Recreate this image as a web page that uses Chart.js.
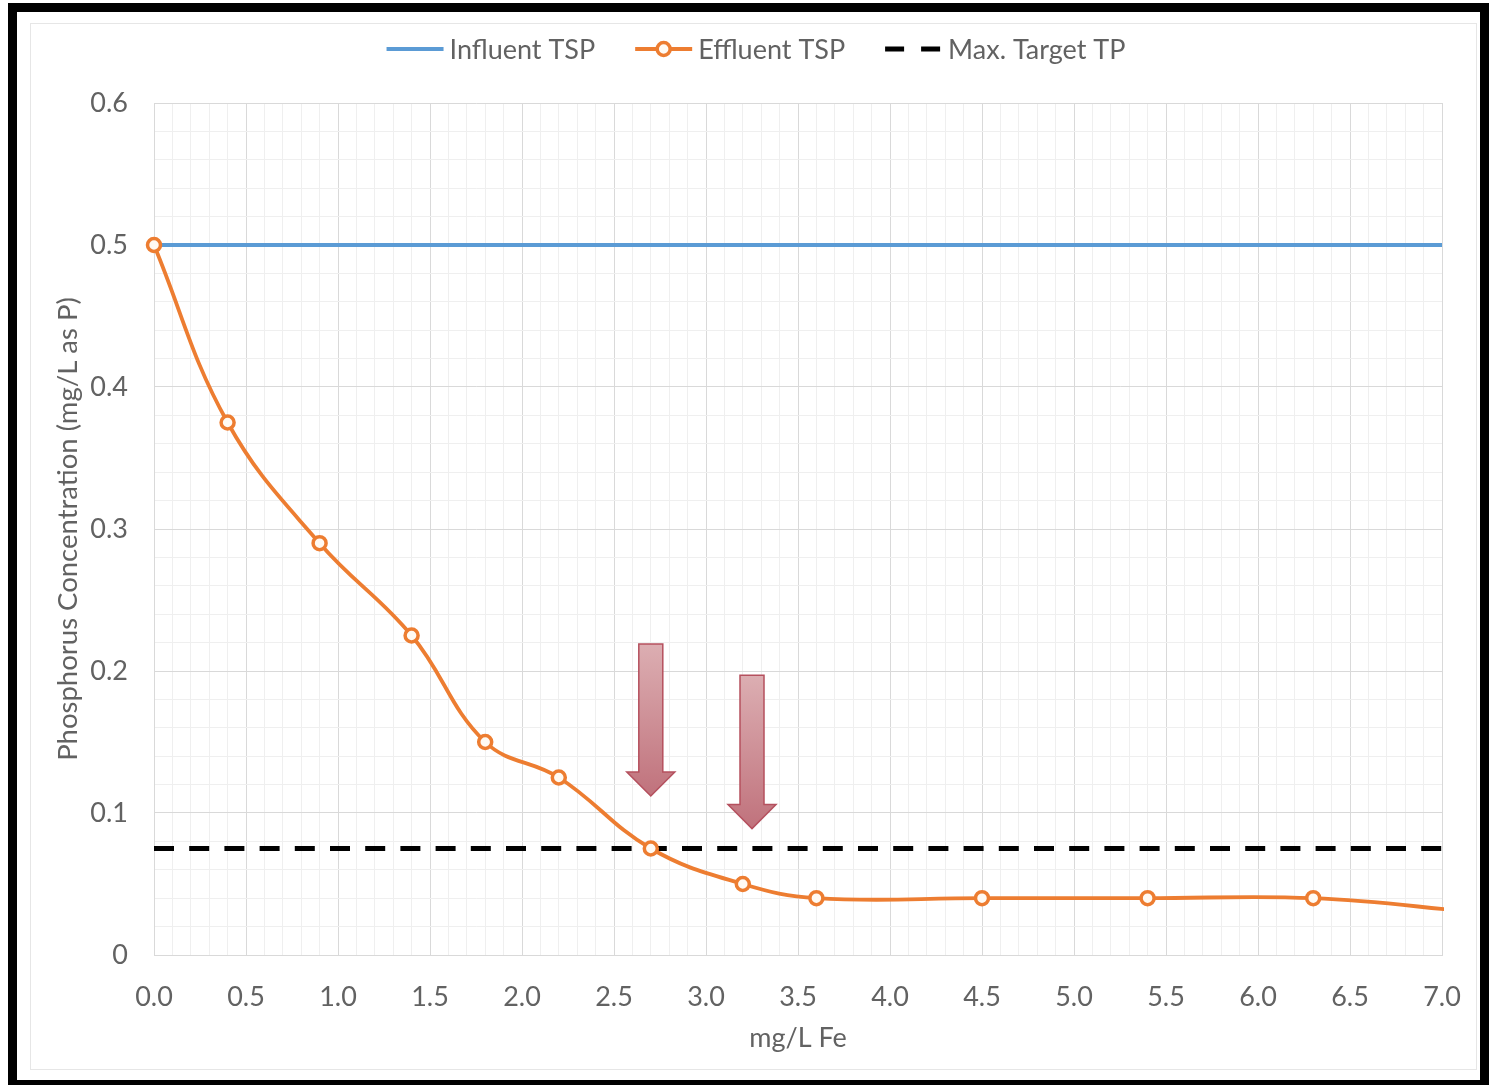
<!DOCTYPE html>
<html>
<head>
<meta charset="utf-8">
<title>Phosphorus removal vs. iron dose</title>
<script src="https://cdn.jsdelivr.net/npm/chart.js@4/dist/chart.umd.min.js"></script>
<style>
  html, body { margin: 0; padding: 0; background: #ffffff; }
  canvas { display: block; }
</style>
</head>
<body>
<canvas id="chart" width="1489" height="1085"></canvas>
<script>
// Iron dose (mg/L Fe) and the measured effluent total soluble phosphorus
const feDose      = [0, 0.4, 0.9, 1.4, 1.8, 2.2, 2.7, 3.2, 3.6, 4.5, 5.4, 6.3, 7.2];
const effluentTSP = [0.5, 0.375, 0.29, 0.225, 0.15, 0.125, 0.075, 0.05, 0.04, 0.04, 0.04, 0.04, 0.03];

// Influent level and the target limit, both constant across the dose range
const influentDose = [0, 7];
const influentTSP  = [0.5, 0.5];
const targetDose   = [0, 7];
const maxTargetTP  = [0.075, 0.075];

// Axis tick labels (major gridlines)
const xTickLabels = ['0.0','0.5','1.0','1.5','2.0','2.5','3.0','3.5','4.0','4.5','5.0','5.5','6.0','6.5','7.0'];
const yTickLabels = ['0','0.1','0.2','0.3','0.4','0.5','0.6'];

// Call-out arrows: dose they point at, and where they start / end (mg/L as P)
const arrowDose = [2.7, 3.25];
const arrowTop  = [0.219, 0.197];
const arrowTip  = [0.112, 0.089];

const pairs = (xs, ys) => xs.map((x, i) => ({ x: x, y: ys[i] }));

const FONT = 'Lato, "Liberation Sans", sans-serif';
const TEXT = '#626262';
const GRID_MAJOR = '#d9d9d9';
const GRID_MINOR = '#efefef';
const TARGET_DASH = [20, 15.2];

function gridValues(max, step) {
  const out = [];
  const n = Math.round(max / step);
  for (let i = 0; i <= n; i++) out.push(Math.round(i * step * 1000) / 1000);
  return out;
}
const isMultiple = (v, m) => Math.abs(v / m - Math.round(v / m)) < 1e-6;

// White page, thin inner border and the heavy black frame
const framePlugin = {
  id: 'frame',
  beforeDraw(chart) {
    const ctx = chart.ctx;
    ctx.save();
    ctx.fillStyle = '#ffffff';
    ctx.fillRect(0, 0, chart.width, chart.height);
    ctx.strokeStyle = '#e6e6e6';
    ctx.lineWidth = 1;
    ctx.strokeRect(30.5, 23.5, 1446, 1046);
    ctx.restore();
  },
  afterDraw(chart) {
    const ctx = chart.ctx;
    ctx.save();
    ctx.fillStyle = '#000000';
    ctx.fillRect(8, 3, 1481, 9);      // top
    ctx.fillRect(8, 3, 9, 1082);      // left
    ctx.fillRect(1480, 3, 9, 1082);   // right
    ctx.fillRect(8, 1080, 1481, 5);   // bottom
    ctx.restore();
  }
};

// Downward call-out arrows placed in data space
const arrowPlugin = {
  id: 'arrows',
  afterDatasetsDraw(chart) {
    const { ctx, scales: { x, y } } = chart;
    ctx.save();
    arrowDose.forEach((d, i) => {
      const cx = x.getPixelForValue(d);
      const top = y.getPixelForValue(arrowTop[i]);
      const tip = y.getPixelForValue(arrowTip[i]);
      const shaft = 12, head = 24, headLen = 24;
      const neck = tip - headLen;
      const g = ctx.createLinearGradient(0, top, 0, tip);
      g.addColorStop(0, '#dcaeb2');
      g.addColorStop(1, '#c0727c');
      ctx.beginPath();
      ctx.moveTo(cx - shaft, top);
      ctx.lineTo(cx + shaft, top);
      ctx.lineTo(cx + shaft, neck);
      ctx.lineTo(cx + head, neck);
      ctx.lineTo(cx, tip);
      ctx.lineTo(cx - head, neck);
      ctx.lineTo(cx - shaft, neck);
      ctx.closePath();
      ctx.fillStyle = g;
      ctx.fill();
      ctx.strokeStyle = '#b5505e';
      ctx.lineWidth = 1.5;
      ctx.stroke();
    });
    ctx.restore();
  }
};

// Series key across the top
const keyPlugin = {
  id: 'seriesKey',
  afterDraw(chart) {
    const ctx = chart.ctx;
    const items = chart.options.plugins.seriesKey.order.map(i => chart.data.datasets[i]);
    const sampleW = 57, textGap = 6, itemGap = 40, cy = 49, centerX = 756;
    ctx.save();
    ctx.font = '27px ' + FONT;
    ctx.textBaseline = 'middle';
    const widths = items.map(ds => sampleW + textGap + ctx.measureText(ds.label).width);
    const total = widths.reduce((a, b) => a + b, 0) + itemGap * (items.length - 1);
    let xPos = centerX - total / 2;
    items.forEach((ds, i) => {
      ctx.save();
      ctx.strokeStyle = ds.borderColor;
      ctx.lineWidth = ds.borderWidth;
      if (ds.borderDash && ds.borderDash.length) {
        ctx.setLineDash([19, 17]);
      }
      ctx.beginPath();
      ctx.moveTo(xPos, cy);
      ctx.lineTo(xPos + sampleW, cy);
      ctx.stroke();
      ctx.setLineDash([]);
      if (ds.pointRadius > 0) {
        ctx.beginPath();
        ctx.arc(xPos + sampleW / 2, cy, ds.pointRadius, 0, Math.PI * 2);
        ctx.fillStyle = ds.pointBackgroundColor;
        ctx.fill();
        ctx.lineWidth = ds.pointBorderWidth;
        ctx.strokeStyle = ds.pointBorderColor;
        ctx.stroke();
      }
      ctx.restore();
      ctx.fillStyle = TEXT;
      ctx.fillText(ds.label, xPos + sampleW + textGap, cy + 1);
      xPos += widths[i] + itemGap;
    });
    ctx.restore();
  }
};

new Chart(document.getElementById('chart'), {
  type: 'line',
  data: {
    datasets: [
      {
        label: 'Effluent TSP',
        data: pairs(feDose, effluentTSP),
        borderColor: '#ed7d31',
        borderWidth: 3.8,
        tension: 0.4,
        pointRadius: 6.5,
        pointBackgroundColor: '#fffaf3',
        pointBorderColor: '#ed7d31',
        pointBorderWidth: 3.5,
        clip: { left: 14, top: 14, bottom: 14, right: 2 },
        order: 0
      },
      {
        label: 'Max. Target TP',
        data: pairs(targetDose, maxTargetTP),
        borderColor: '#000000',
        borderWidth: 5,
        borderDash: TARGET_DASH,
        pointRadius: 0,
        order: 1
      },
      {
        label: 'Influent TSP',
        data: pairs(influentDose, influentTSP),
        borderColor: '#5b9bd5',
        borderWidth: 3.8,
        pointRadius: 0,
        order: 2
      }
    ]
  },
  options: {
    responsive: false,
    animation: false,
    layout: { padding: { top: 103, left: 52, right: 47, bottom: 31 } },
    plugins: {
      legend: { display: false },
      tooltip: { enabled: false },
      seriesKey: { order: [2, 0, 1] }
    },
    scales: {
      x: {
        type: 'linear',
        min: 0,
        max: 7,
        afterBuildTicks: axis => { axis.ticks = gridValues(7, 0.1).map(v => ({ value: v })); },
        afterFit: axis => { axis.height = 99; },
        grid: {
          drawTicks: false,
          color: c => (c.tick && isMultiple(c.tick.value, 0.5)) ? GRID_MAJOR : GRID_MINOR,
          lineWidth: 1
        },
        border: { display: true, color: GRID_MAJOR },
        ticks: {
          autoSkip: false,
          maxRotation: 0,
          minRotation: 0,
          padding: 26,
          color: TEXT,
          font: { family: FONT, size: 27 },
          callback: v => isMultiple(v, 0.5) ? xTickLabels[Math.round(v / 0.5)] : ''
        },
        title: {
          display: true,
          text: 'mg/L Fe',
          color: TEXT,
          font: { family: FONT, size: 27 },
          padding: 0
        }
      },
      y: {
        type: 'linear',
        min: 0,
        max: 0.6,
        afterBuildTicks: axis => { axis.ticks = gridValues(0.6, 0.02).map(v => ({ value: v })); },
        afterFit: axis => { axis.width = 102; },
        grid: {
          drawTicks: false,
          color: c => (c.tick && isMultiple(c.tick.value, 0.1)) ? GRID_MAJOR : GRID_MINOR,
          lineWidth: 1
        },
        border: { display: true, color: GRID_MAJOR },
        ticks: {
          autoSkip: false,
          padding: 26,
          color: TEXT,
          font: { family: FONT, size: 27 },
          callback: v => isMultiple(v, 0.1) ? yTickLabels[Math.round(v / 0.1)] : ''
        },
        title: {
          display: true,
          text: 'Phosphorus Concentration (mg/L as P)',
          color: TEXT,
          font: { family: FONT, size: 27.5 },
          padding: 0
        }
      }
    }
  },
  plugins: [framePlugin, arrowPlugin, keyPlugin]
});
</script>
</body>
</html>
